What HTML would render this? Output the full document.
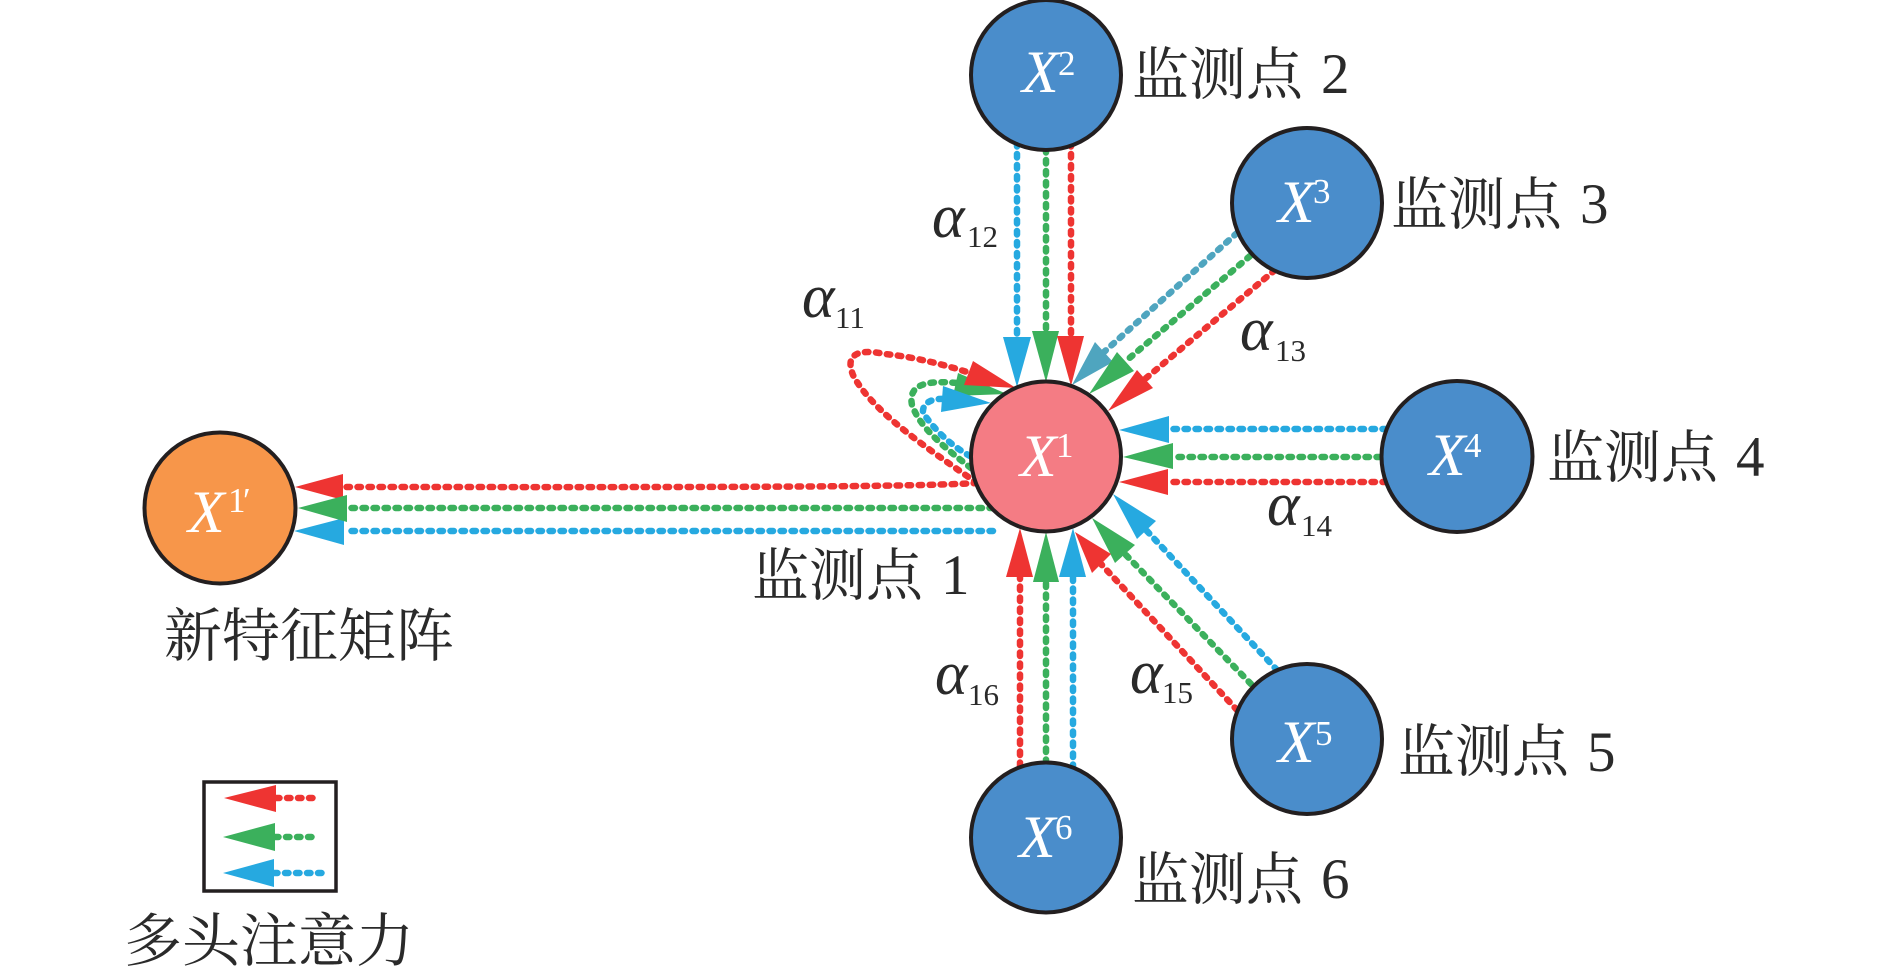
<!DOCTYPE html>
<html><head><meta charset="utf-8"><style>
html,body{margin:0;padding:0;background:#fff;width:1890px;height:978px;overflow:hidden}
svg{display:block}
.c{font-family:"Noto Serif CJK SC","Liberation Serif",serif;fill:#2a2a2a;font-size:57px}
.d{font-family:"Liberation Serif",serif;fill:#2a2a2a;font-size:57px}
.x{font-family:"Liberation Serif",serif;font-style:italic;fill:#fff;font-size:60px}
.s{font-family:"Liberation Serif",serif;fill:#fff;font-size:35px}
.a{font-family:"Liberation Serif",serif;font-style:italic;fill:#2a2a2a;font-size:62px}
.b{font-family:"Liberation Serif",serif;fill:#2a2a2a;font-size:31px}
.r,.g,.u,.t{fill:none;stroke-width:6.5;stroke-linecap:round;stroke-dasharray:3.5 7.5}
.r{stroke:#ee3432}.g{stroke:#3bb05c}.u{stroke:#26a9e0}.t{stroke:#4fa5bf}
.rf{fill:#ee3432}.gf{fill:#3bb05c}.uf{fill:#26a9e0}.tf{fill:#4fa5bf}
.n{stroke:#231f20;stroke-width:4}
</style></head><body>
<svg width="1890" height="978" viewBox="0 0 1890 978" xmlns="http://www.w3.org/2000/svg">
<rect width="1890" height="978" fill="#fff"/>

<!-- connectors -->
<path class="u" d="M1017 143V337"/><path class="g" d="M1046 149V331"/><path class="r" d="M1071 143V336"/>
<path class="t" d="M1237 233L1104 352"/><path class="g" d="M1250 256L1126 361"/><path class="r" d="M1275 270L1145 379"/>
<path class="u" d="M1386 429H1169"/><path class="g" d="M1380 457H1173"/><path class="r" d="M1386 482H1168"/>
<path class="u" d="M1277 670L1146 530"/><path class="g" d="M1251 684L1125 554"/><path class="r" d="M1237 710L1101 564"/>
<path class="r" d="M1020 766V577"/><path class="g" d="M1046 763V582"/><path class="u" d="M1073 768V577"/>
<path class="r" d="M977 483C900 488 600 487 343 487"/>
<path class="g" d="M993 508H347"/>
<path class="u" d="M993 531H344"/>
<path class="r" d="M977 483C930 450 872 412 853 375C843 350 865 350 885 354C915 357 945 365 967 372"/>
<path class="g" d="M971 468C945 448 920 428 912 405C908 385 925 380 957 383"/>
<path class="u" d="M970 456C950 445 935 430 923 413C922 403 932 398 945 399"/>

<!-- arrowheads -->
<polygon class="uf" points="1003,337 1031,337 1017,387"/>
<polygon class="gf" points="1032,331 1059,331 1046,382"/>
<polygon class="rf" points="1057,336 1084,336 1071,386"/>
<polygon class="tf" points="1072,385 1095,342 1113,362"/>
<polygon class="gf" points="1089,394 1117,352 1134,371"/>
<polygon class="rf" points="1108,411 1137,370 1153,388"/>
<polygon class="uf" points="1119,430 1169,416 1169,443"/>
<polygon class="gf" points="1123,457 1173,443 1173,469"/>
<polygon class="rf" points="1119,482 1168,469 1168,495"/>
<polygon class="uf" points="1113,494 1156,521 1137,539"/>
<polygon class="gf" points="1092,518 1135,545 1115,563"/>
<polygon class="rf" points="1075,532 1111,554 1092,573"/>
<polygon class="rf" points="1020,528 1006,577 1033,577"/>
<polygon class="gf" points="1046,532 1033,582 1059,582"/>
<polygon class="uf" points="1073,528 1059,577 1086,577"/>
<polygon class="gf" points="1007,394 958,373 953,396"/>
<polygon class="rf" points="1016,388 973,361 964,385"/>
<polygon class="uf" points="991,403 943,386 941,412"/>
<polygon class="rf" points="295,487 343,474 343,500"/>
<polygon class="uf" points="294,531 344,518 344,545"/>
<polygon class="gf" points="298,508 347,495 347,522"/>

<!-- nodes -->
<circle class="n" cx="1046" cy="456.5" r="75" fill="#f47c84"/>
<circle class="n" cx="220" cy="508" r="75.5" fill="#f7964a"/>
<circle class="n" cx="1046" cy="75" r="75" fill="#4a8dcb"/>
<circle class="n" cx="1307" cy="203" r="75" fill="#4a8dcb"/>
<circle class="n" cx="1457" cy="456.5" r="75.5" fill="#4a8dcb"/>
<circle class="n" cx="1307" cy="739" r="75" fill="#4a8dcb"/>
<circle class="n" cx="1046" cy="837.5" r="75" fill="#4a8dcb"/>

<!-- node labels -->
<text class="x" x="1022" y="92">X</text><text class="s" x="1058" y="75">2</text>
<text class="x" x="1278" y="222">X</text><text class="s" x="1313" y="203">3</text>
<text class="x" x="1020" y="476">X</text><text class="s" x="1056" y="457">1</text>
<text class="x" x="1429" y="475">X</text><text class="s" x="1464" y="457">4</text>
<text class="x" x="1278" y="762">X</text><text class="s" x="1315" y="745">5</text>
<text class="x" x="1019" y="857">X</text><text class="s" x="1055" y="839">6</text>
<text class="x" x="188" y="532">X</text><text class="s" x="228" y="512">1</text><text class="s" x="243" y="512">′</text>

<!-- station labels -->
<text class="c" x="1132" y="94">监测点</text><text class="d" x="1321" y="93">2</text>
<text class="c" x="1391" y="224">监测点</text><text class="d" x="1580" y="223">3</text>
<text class="c" x="1547" y="477">监测点</text><text class="d" x="1736" y="476">4</text>
<text class="c" x="752" y="595">监测点</text><text class="d" x="941" y="594">1</text>
<text class="c" x="1398" y="771">监测点</text><text class="d" x="1587" y="771">5</text>
<text class="c" x="1132" y="899">监测点</text><text class="d" x="1321" y="898">6</text>
<text class="c" x="164" y="656" style="font-size:58px">新特征矩阵</text>
<text class="c" x="124" y="961" style="font-size:58px">多头注意力</text>

<!-- alpha labels -->
<text class="a" x="932" y="237">α</text><text class="b" x="967" y="247">12</text>
<text class="a" x="802" y="317">α</text><text class="b" x="835" y="328">11</text>
<text class="a" x="1240" y="350">α</text><text class="b" x="1275" y="361">13</text>
<text class="a" x="1267" y="525">α</text><text class="b" x="1301" y="536">14</text>
<text class="a" x="1130" y="693">α</text><text class="b" x="1162" y="703">15</text>
<text class="a" x="935" y="694">α</text><text class="b" x="968" y="705">16</text>

<!-- legend -->
<rect x="204" y="782" width="132" height="109" fill="#fff" stroke="#231f20" stroke-width="3.5"/>
<path class="r" d="M276 798H317"/><polygon class="rf" points="224,798 276,785 276,812"/>
<path class="g" d="M275 837H316"/><polygon class="gf" points="223,837 275,823 275,851"/>
<path class="u" d="M274 873H323"/><polygon class="uf" points="223,873 274,859 274,887"/>
</svg>
</body></html>
